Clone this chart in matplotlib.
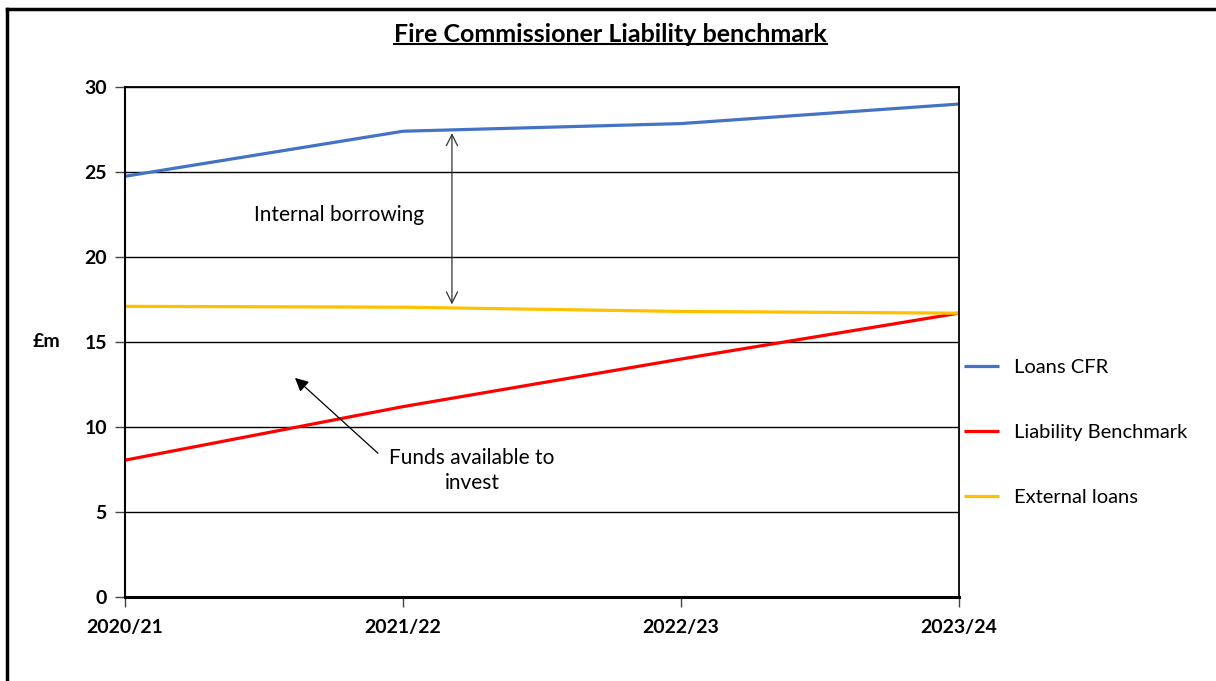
import matplotlib.pyplot as plt
from matplotlib.lines import Line2D

plt.rcParams["font.family"] = ["Lato", "DejaVu Sans"]

years = ["2020/21", "2021/22", "2022/23", "2023/24"]
loans_cfr = [24.75, 27.4, 27.85, 29.0]
liability_benchmark = [8.05, 11.2, 14.0, 16.7]
external_loans = [17.1, 17.05, 16.8, 16.7]

y_ticks = [0, 5, 10, 15, 20, 25, 30]

fig = plt.figure(figsize=(12.16, 6.81), dpi=100)
ax = fig.add_axes([0.1028, 0.1233, 0.6859, 0.7489])

x = list(range(len(years)))
ax.plot(x, loans_cfr, color="#4472C4", lw=2.3, label="Loans CFR", solid_capstyle="butt")
ax.plot(x, liability_benchmark, color="#FF0000", lw=2.3, label="Liability Benchmark", solid_capstyle="butt")
ax.plot(x, external_loans, color="#FFC000", lw=2.3, label="External loans", solid_capstyle="butt")

ax.set_xlim(0, 3)
ax.set_ylim(0, 30)
ax.set_xticks(x)
ax.set_xticklabels(years, fontsize=14, fontweight="bold")
ax.set_yticks(y_ticks)
ax.set_yticklabels([str(t) for t in y_ticks], fontsize=14, fontweight="bold")
ax.tick_params(axis="both", direction="out", length=7, width=1, color="#444444")
ax.tick_params(axis="x", pad=9)
ax.tick_params(axis="y", pad=6)
ax.yaxis.grid(True, color="black", lw=1)
ax.set_axisbelow(True)
for side in ["top", "right"]:
    ax.spines[side].set_linewidth(1.3)
ax.spines["left"].set_linewidth(1.5)
ax.spines["bottom"].set_linewidth(2.2)

fig.text(0.038, 0.499, "£m", fontsize=14, fontweight="bold", ha="center", va="center")

# annotations
ax.annotate("", xy=(1.176, 27.45), xytext=(1.176, 17.05),
            arrowprops=dict(arrowstyle="<->", color="#333333", lw=0.9, mutation_scale=20))
ax.text(0.77, 22.5, "Internal borrowing", fontsize=15, ha="center", va="center")
ax.annotate("", xy=(0.604, 13.0), xytext=(0.917, 8.35),
            arrowprops=dict(arrowstyle="-|>", color="black", lw=0.9, mutation_scale=20))
ax.text(1.248, 7.45, "Funds available to\ninvest", fontsize=15, ha="center", va="center",
        linespacing=1.3)

# legend
ax.legend(loc="center left", bbox_to_anchor=(0.996, 0.323), frameon=False, fontsize=14.5,
          handlelength=1.75, handletextpad=0.75, labelspacing=2.38, borderaxespad=0)

# title with underline
title = fig.text(0.502, 0.95, "Fire Commissioner Liability benchmark", fontsize=18,
                 fontweight="bold", ha="center", va="center")
fig.canvas.draw()
bb = title.get_window_extent().transformed(fig.transFigure.inverted())
fig.add_artist(Line2D([bb.x0, bb.x1], [bb.y0 + 0.003, bb.y0 + 0.003], color="black", lw=1.5))

# chart frame
fig.add_artist(Line2D([0.0055, 0.0055], [0.0, 0.987], color="black", lw=2.5))
fig.add_artist(Line2D([0.0055, 1.0], [0.987, 0.987], color="black", lw=2.5))

fig.savefig("out.png", dpi=100)
